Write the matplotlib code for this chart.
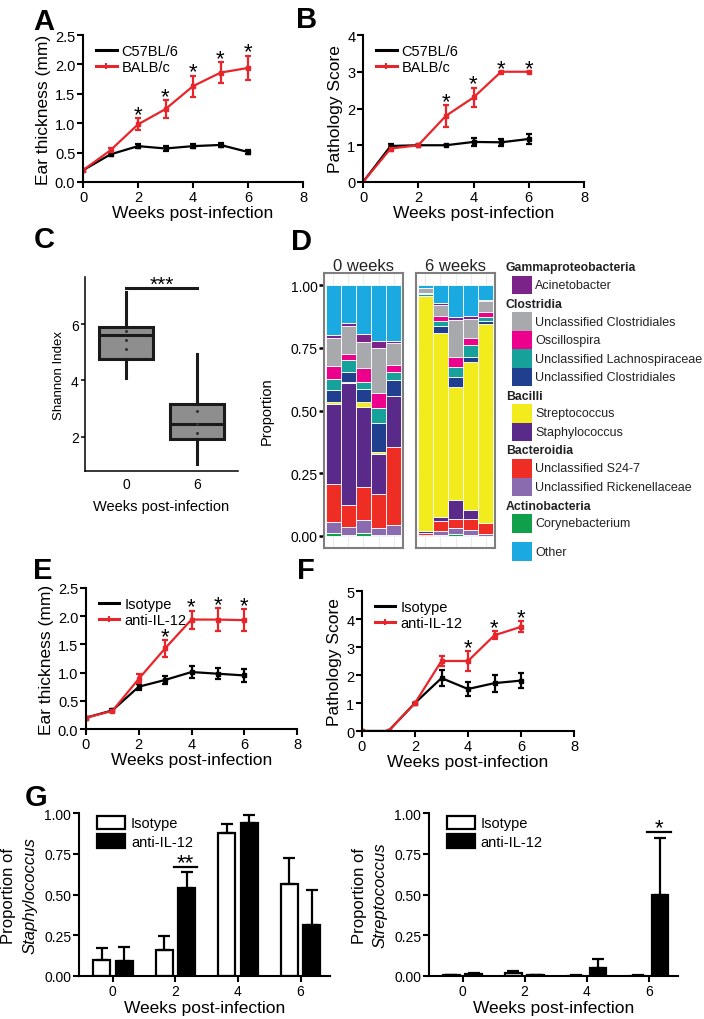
import matplotlib
matplotlib.use("Agg")
import matplotlib.pyplot as plt
from matplotlib.patches import Rectangle
from matplotlib.lines import Line2D
import numpy as np

plt.rcParams['font.family'] = ['Liberation Sans', 'DejaVu Sans']

W, H = 704, 1020
RED = '#e8252a'

# ---- data -------------------------------------------------------------
weeks = [0, 1, 2, 3, 4, 5, 6]

# A: ear thickness, C57BL/6 vs BALB/c
a_c57 = [0.20, 0.47, 0.61, 0.57, 0.61, 0.63, 0.51]
a_c57_err = [0.01, 0.03, 0.04, 0.04, 0.04, 0.04, 0.04]
a_balb = [0.20, 0.54, 0.98, 1.24, 1.63, 1.86, 1.94]
a_balb_err = [0.01, 0.04, 0.10, 0.15, 0.18, 0.18, 0.21]
a_stars = [2, 3, 4, 5, 6]

# B: pathology score, C57BL/6 vs BALB/c
b_c57 = [0.0, 0.98, 1.0, 1.0, 1.09, 1.08, 1.17]
b_c57_err = [0.0, 0.05, 0.0, 0.0, 0.10, 0.10, 0.14]
b_balb = [0.0, 0.91, 1.0, 1.80, 2.30, 3.0, 3.0]
b_balb_err = [0.0, 0.08, 0.0, 0.30, 0.27, 0.0, 0.0]
b_stars = [3, 4, 5, 6]

# C: Shannon index boxplots
c_groups = ['0', '6']
c_med = [5.61, 2.46]
c_q1 = [4.76, 1.93]
c_q3 = [5.89, 3.17]
c_lo = [4.09, 1.04]
c_hi = [7.13, 4.94]
c_points = [[5.76, 5.42, 5.10], [2.92, 2.46, 2.14]]
c_sig_y = 7.28

# D: taxa proportions, 5 mice at 0 weeks then 5 mice at 6 weeks (bottom to top)
taxa = ['Corynebacterium', 'Unclassified Rickenellaceae', 'Unclassified S24-7',
        'Staphylococcus', 'Streptococcus', 'Unclassified Clostridiales (2)',
        'Unclassified Lachnospiraceae', 'Oscillospira', 'Unclassified Clostridiales',
        'Acinetobacter', 'Other']
taxa_colors = ['#10a04b', '#8a6bb0', '#ee2e24', '#5a2a8a', '#f2ec1d', '#213f8f',
               '#16a29a', '#ec008c', '#a7a9ac', '#7b2389', '#1ba9e1']
coryne = [0.010, 0.002, 0.010, 0.002, 0.002, 0.000, 0.002, 0.008, 0.002, 0.000]
rikenell = [0.047, 0.034, 0.053, 0.031, 0.041, 0.002, 0.016, 0.022, 0.021, 0.008]
s24_7 = [0.149, 0.086, 0.132, 0.133, 0.313, 0.008, 0.042, 0.038, 0.043, 0.042]
staph = [0.319, 0.487, 0.318, 0.162, 0.200, 0.009, 0.014, 0.077, 0.039, 0.003]
strep = [0.007, 0.004, 0.019, 0.006, 0.000, 0.936, 0.736, 0.447, 0.588, 0.792]
clost_navy = [0.049, 0.041, 0.053, 0.115, 0.065, 0.000, 0.028, 0.043, 0.020, 0.013]
lachno = [0.044, 0.046, 0.027, 0.060, 0.031, 0.009, 0.020, 0.039, 0.049, 0.016]
oscillo = [0.053, 0.027, 0.057, 0.059, 0.028, 0.004, 0.017, 0.041, 0.027, 0.017]
clost_grey = [0.109, 0.111, 0.105, 0.183, 0.089, 0.020, 0.045, 0.146, 0.077, 0.044]
acineto = [0.013, 0.010, 0.031, 0.027, 0.009, 0.000, 0.007, 0.013, 0.010, 0.007]
other = [0.200, 0.152, 0.195, 0.222, 0.222, 0.012, 0.073, 0.126, 0.124, 0.058]
d_series = [coryne, rikenell, s24_7, staph, strep, clost_navy, lachno, oscillo,
            clost_grey, acineto, other]
d_facets = ['0 weeks', '6 weeks']

legend_groups = [
    ('Gammaproteobacteria', [('Acinetobacter', '#7b2389')]),
    ('Clostridia', [('Unclassified Clostridiales', '#a7a9ac'),
                    ('Oscillospira', '#ec008c'),
                    ('Unclassified Lachnospiraceae', '#16a29a'),
                    ('Unclassified Clostridiales', '#213f8f')]),
    ('Bacilli', [('Streptococcus', '#f2ec1d'), ('Staphylococcus', '#5a2a8a')]),
    ('Bacteroidia', [('Unclassified S24-7', '#ee2e24'),
                     ('Unclassified Rickenellaceae', '#8a6bb0')]),
    ('Actinobacteria', [('Corynebacterium', '#10a04b')]),
    (None, [('Other', '#1ba9e1')]),
]

# E: ear thickness, Isotype vs anti-IL-12
e_iso = [0.20, 0.33, 0.75, 0.87, 1.01, 0.98, 0.95]
e_iso_err = [0.01, 0.02, 0.05, 0.07, 0.10, 0.10, 0.12]
e_anti = [0.20, 0.32, 0.89, 1.43, 1.94, 1.94, 1.93]
e_anti_err = [0.01, 0.02, 0.08, 0.15, 0.16, 0.20, 0.20]
e_stars = [3, 4, 5, 6]

# F: pathology score, Isotype vs anti-IL-12
f_iso = [0.0, 0.0, 1.0, 1.89, 1.50, 1.71, 1.80]
f_iso_err = [0.0, 0.0, 0.0, 0.30, 0.25, 0.30, 0.28]
f_anti = [0.0, 0.0, 1.0, 2.50, 2.50, 3.42, 3.72]
f_anti_err = [0.0, 0.0, 0.0, 0.17, 0.35, 0.15, 0.20]
f_stars = [4, 5, 6]

# G: proportions of Staphylococcus / Streptococcus
g_weeks = ['0', '2', '4', '6']
g_staph_iso = [0.096, 0.157, 0.877, 0.566]
g_staph_iso_err = [0.078, 0.086, 0.053, 0.158]
g_staph_anti = [0.090, 0.542, 0.939, 0.311]
g_staph_anti_err = [0.090, 0.096, 0.051, 0.215]
g_strep_iso = [0.005, 0.020, 0.003, 0.003]
g_strep_iso_err = [0.003, 0.008, 0.002, 0.002]
g_strep_anti = [0.015, 0.005, 0.050, 0.499]
g_strep_anti_err = [0.006, 0.003, 0.056, 0.350]


def box(l, t, r, b):
    return [l / W, 1 - b / H, (r - l) / W, (b - t) / H]


def style_axes(ax, lw=1.5, ticklen=4, size=10.5):
    for s in ['top', 'right']:
        ax.spines[s].set_visible(False)
    for s in ['left', 'bottom']:
        ax.spines[s].set_linewidth(lw)
    ax.tick_params(length=ticklen, width=lw, labelsize=size, pad=1.5)


def line_panel(ax, y1, e1, y2, e2, labels, stars, ylim, yticks, yfmt, ylabel):
    ax.errorbar(weeks, y1, yerr=e1, color='black', lw=1.6, capsize=2.5,
                capthick=1.6, elinewidth=1.6, marker='s', ms=2.5)
    ax.errorbar(weeks, y2, yerr=e2, color=RED, lw=1.6, capsize=2.5,
                capthick=1.6, elinewidth=1.6, marker='s', ms=2.5)
    for w in stars:
        ax.annotate('*', (w, y2[w] + e2[w]), xytext=(0, -7),
                    textcoords='offset pixels', ha='center', va='bottom',
                    fontsize=16)
    ax.set_xlim(0, 8)
    ax.set_ylim(*ylim)
    ax.set_xticks([0, 2, 4, 6, 8])
    ax.set_yticks(yticks)
    ax.set_yticklabels([yfmt.format(v) for v in yticks])
    style_axes(ax)
    ax.set_ylabel(ylabel, fontsize=12.5, labelpad=3)
    ax.set_xlabel('Weeks post-infection', fontsize=12.5, labelpad=1)
    handles = [Line2D([], [], color='black', lw=2.2),
               Line2D([], [], color=RED, lw=2.2, marker='|', ms=4, mew=1.5)]
    ax.legend(handles, labels, loc='upper left', frameon=False, fontsize=10.5,
              handlelength=1.4, handletextpad=0.35, borderaxespad=0.2,
              labelspacing=0.15, bbox_to_anchor=(0.02, 1.0))


fig = plt.figure(figsize=(W / 100, H / 100), dpi=100)

# ---- A ----------------------------------------------------------------
axA = fig.add_axes(box(83, 36, 303, 183))
line_panel(axA, a_c57, a_c57_err, a_balb, a_balb_err, ['C57BL/6', 'BALB/c'],
           a_stars, (0, 2.5), [0, 0.5, 1.0, 1.5, 2.0, 2.5], '{:.1f}',
           'Ear thickness (mm)')

# ---- B ----------------------------------------------------------------
axB = fig.add_axes(box(363, 36, 584, 183))
line_panel(axB, b_c57, b_c57_err, b_balb, b_balb_err, ['C57BL/6', 'BALB/c'],
           b_stars, (0, 4), [0, 1, 2, 3, 4], '{:d}', 'Pathology Score')

# ---- C ----------------------------------------------------------------
axC = fig.add_axes(box(85, 278, 238, 472))
stats = [dict(med=c_med[i], q1=c_q1[i], q3=c_q3[i], whislo=c_lo[i],
              whishi=c_hi[i], fliers=[]) for i in range(2)]
axC.bxp(stats, positions=[0, 1], widths=0.76, patch_artist=True, showcaps=False,
        boxprops=dict(facecolor='#8e8e8e', edgecolor='#1a1a1a', lw=2.2),
        medianprops=dict(color='#1a1a1a', lw=2.2),
        whiskerprops=dict(color='#1a1a1a', lw=2.2))
for i, pts in enumerate(c_points):
    axC.scatter([i] * len(pts), pts, s=1.5, color='#333333', zorder=5)
axC.plot([0, 1], [c_sig_y, c_sig_y], color='#1a1a1a', lw=2.2)
axC.annotate('***', (0.5, c_sig_y), xytext=(0, -6), textcoords='offset pixels',
             ha='center', va='bottom', fontsize=15)
axC.set_xlim(-0.58, 1.58)
axC.set_ylim(0.79, 7.67)
axC.set_xticks([0, 1])
axC.set_xticklabels(c_groups)
axC.set_yticks([2, 4, 6])
style_axes(axC, lw=1.1, ticklen=3, size=10)
axC.tick_params(axis='x', length=0, pad=4)
axC.set_ylabel('Shannon Index', fontsize=9.5, labelpad=4)
axC.set_xlabel('Weeks post-infection', fontsize=10.5, labelpad=6)

# ---- D ----------------------------------------------------------------
d_axes = [fig.add_axes(box(324, 274, 403, 549)), fig.add_axes(box(416, 274, 495, 549))]
xpos = np.arange(1, 6)
for k, ax in enumerate(d_axes):
    bottom = np.zeros(5)
    for vals, col in zip(d_series, taxa_colors):
        v = np.array(vals[k * 5:(k + 1) * 5])
        ax.bar(xpos, v, width=1.0, bottom=bottom, color=col, edgecolor='white',
               lw=0.6, zorder=3)
        bottom += v
    ax.set_xlim(0.4, 5.6)
    ax.set_ylim(-0.048, 1.048)
    ax.set_xticks(xpos)
    ax.set_xticklabels([])
    ax.grid(axis='x', color='#ececec', lw=0.8, zorder=0)
    ax.set_yticks([0, 0.25, 0.5, 0.75, 1.0])
    ax.grid(axis='y', color='#f2f2f2', lw=0.6, zorder=0)
    for s in ax.spines.values():
        s.set_color('#7f7f7f')
        s.set_linewidth(1.5)
    ax.tick_params(axis='x', length=0)
    ax.set_title(d_facets[k], fontsize=12, pad=1, color='#222222')
    if k == 0:
        ax.set_yticklabels(['0.00', '0.25', '0.50', '0.75', '1.00'])
        ax.tick_params(axis='y', length=3.5, width=1.8, labelsize=10, pad=1)
        ax.set_ylabel('Proportion', fontsize=10.5, labelpad=12)
    else:
        ax.tick_params(axis='y', length=0, labelleft=False)

# legend for D, drawn on an invisible axes in pixel units
axL = fig.add_axes(box(500, 255, 704, 570))
axL.set_xlim(500, 704)
axL.set_ylim(570, 255)
axL.axis('off')
y = 268
for title, items in legend_groups:
    if title:
        axL.text(506, y, title, fontsize=8.8, fontweight='bold', va='center',
                 color='#222222')
        y += 8.5
    for name, col in items:
        axL.add_patch(Rectangle((512, y), 20, 18.5, facecolor=col, edgecolor='none'))
        axL.text(535, y + 9.5, name, fontsize=9, va='center', color='#222222')
        y += 18.5
    y += 9.5

# ---- E ----------------------------------------------------------------
axE = fig.add_axes(box(86, 589, 297, 730))
line_panel(axE, e_iso, e_iso_err, e_anti, e_anti_err, ['Isotype', 'anti-IL-12'],
           e_stars, (0, 2.5), [0, 0.5, 1.0, 1.5, 2.0, 2.5], '{:.1f}',
           'Ear thickness (mm)')

# ---- F ----------------------------------------------------------------
axF = fig.add_axes(box(362, 592, 574, 732))
line_panel(axF, f_iso, f_iso_err, f_anti, f_anti_err, ['Isotype', 'anti-IL-12'],
           f_stars, (0, 5), [0, 1, 2, 3, 4, 5], '{:d}', 'Pathology Score')


# ---- G ----------------------------------------------------------------
def bar_panel(ax, iso, iso_err, anti, anti_err, genus, sig_idx, sig_y, sig_text):
    x = np.arange(len(g_weeks))
    ax.bar(x - 0.18, iso, 0.27, color='white', edgecolor='black', lw=1.6,
           yerr=(np.zeros(4), iso_err), capsize=4,
           error_kw=dict(lw=1.6, capthick=1.6), label='Isotype')
    ax.bar(x + 0.18, anti, 0.27, color='black', edgecolor='black', lw=1.6,
           yerr=(np.zeros(4), anti_err), capsize=4,
           error_kw=dict(lw=1.6, capthick=1.6), label='anti-IL-12')
    ax.plot([sig_idx - 0.03, sig_idx + 0.35], [sig_y, sig_y], color='black', lw=1.6)
    ax.annotate(sig_text, (sig_idx + 0.16, sig_y), xytext=(0, -6),
                textcoords='offset pixels', ha='center', va='bottom', fontsize=16)
    ax.set_xlim(-0.54, 3.47)
    ax.set_ylim(0, 1.0)
    ax.set_xticks(x)
    ax.set_xticklabels(g_weeks)
    ax.set_yticks([0, 0.25, 0.5, 0.75, 1.0])
    ax.set_yticklabels(['0.00', '0.25', '0.50', '0.75', '1.00'])
    style_axes(ax, size=10)
    ax.set_xlabel('Weeks post-infection', fontsize=12.5, labelpad=2)
    ax.text(-0.28, 0.5, 'Proportion of', transform=ax.transAxes, rotation=90,
            fontsize=12, ha='center', va='center')
    ax.text(-0.195, 0.5, genus, transform=ax.transAxes, rotation=90,
            fontsize=12, style='italic', ha='center', va='center')
    ax.legend(loc='upper left', frameon=False, fontsize=10.5, handlelength=1.9,
              handleheight=1.0, handletextpad=0.4, labelspacing=0.3,
              borderaxespad=0.0, bbox_to_anchor=(0.05, 1.02))


axG1 = fig.add_axes(box(79, 814, 330, 977))
bar_panel(axG1, g_staph_iso, g_staph_iso_err, g_staph_anti, g_staph_anti_err,
          'Staphylococcus', 1, 0.669, '**')
axG2 = fig.add_axes(box(429, 814, 678, 977))
bar_panel(axG2, g_strep_iso, g_strep_iso_err, g_strep_anti, g_strep_anti_err,
          'Streptococcus', 3, 0.883, '*')

# panel letters
for letter, (lx, ly) in {'A': (33, 8), 'B': (296, 6), 'C': (34, 226), 'D': (291, 228),
                         'E': (33, 557), 'F': (297, 557), 'G': (25, 784)}.items():
    fig.text(lx / W, 1 - ly / H, letter, fontsize=21, fontweight='bold',
             ha='left', va='top')

fig.savefig('out.png', dpi=100)
